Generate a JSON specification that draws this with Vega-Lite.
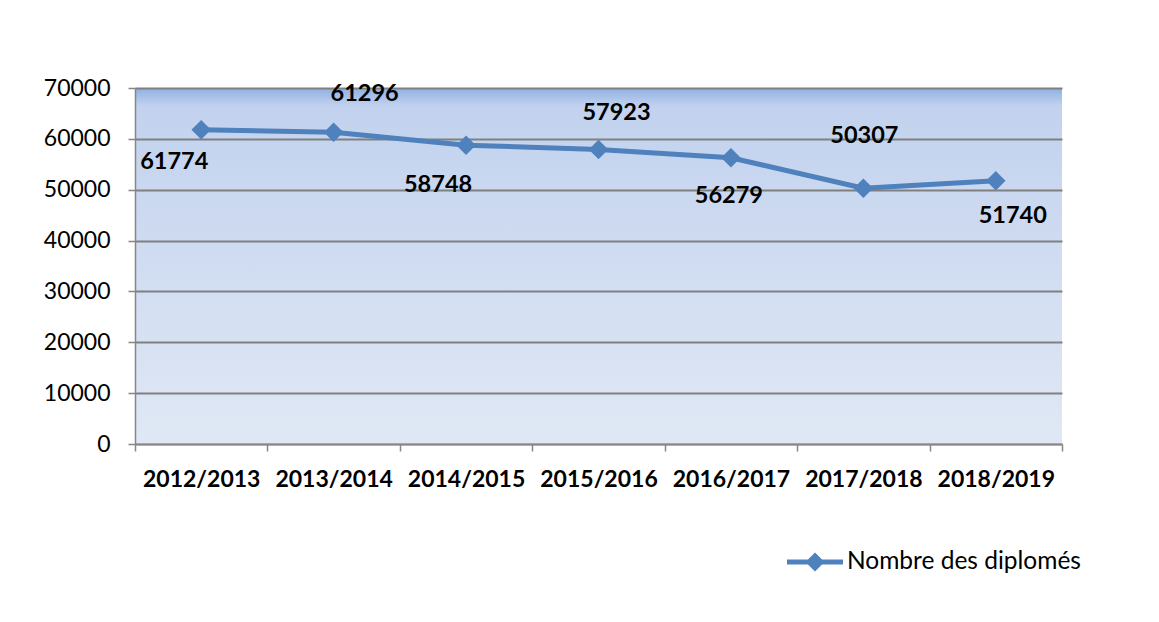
{
  "$schema": "https://vega.github.io/schema/vega-lite/v6.json",
  "width": 927,
  "height": 356,
  "autosize": "none",
  "padding": {"left": 135, "top": 88, "right": 97, "bottom": 178},
  "background": "white",
  "data": {"values": [
    {"annee": "2012/2013", "diplomes": 61774},
    {"annee": "2013/2014", "diplomes": 61296},
    {"annee": "2014/2015", "diplomes": 58748},
    {"annee": "2015/2016", "diplomes": 57923},
    {"annee": "2016/2017", "diplomes": 56279},
    {"annee": "2017/2018", "diplomes": 50307},
    {"annee": "2018/2019", "diplomes": 51740}
  ]},
  "encoding": {
    "x": {"field": "annee", "type": "nominal", "sort": null,
      "scale": {"paddingInner": 0, "paddingOuter": 0},
      "axis": {"title": null, "labelAngle": 0, "bandPosition": 0, "tickBand": "extent", "labelFont": "Lato", "labelFontSize": 23, "labelFontWeight": "bold", "labelColor": "#000000", "labelPadding": 17, "tickSize": 7, "tickColor": "#868686", "tickWidth": 1.5, "domainColor": "#868686", "domainWidth": 1.5, "grid": false}},
    "y": {"field": "diplomes", "type": "quantitative",
      "scale": {"domain": [0, 70000], "nice": false},
      "axis": {"title": null, "values": [0, 10000, 20000, 30000, 40000, 50000, 60000, 70000], "format": "d", "labelFont": "Lato", "labelFontSize": 23, "labelColor": "#000000", "labelPadding": 18, "tickSize": 7, "tickColor": "#868686", "tickWidth": 1.5, "domainColor": "#868686", "domainWidth": 1.5, "grid": true, "gridColor": "#808080", "gridWidth": 2}}
  },
  "layer": [
    {"mark": {"type": "line", "strokeWidth": 5},
     "encoding": {"color": {"datum": "Nombre des diplomés", "type": "nominal",
       "scale": {"range": ["#4f81bd"]},
       "legend": {"title": null, "orient": "none", "legendX": 652, "legendY": 446, "padding": 0,
         "symbolType": "M-1,-0.09H1V0.09H-1Z M0,-0.34L0.34,0L0,0.34L-0.34,0Z",
         "symbolSize": 3136, "symbolStrokeWidth": 0, "symbolFillColor": "#4f81bd", "symbolOpacity": 1,
         "labelFont": "Lato", "labelFontSize": 24.5, "labelColor": "#000000", "labelOffset": 4, "labelLimit": 400}}}},
    {"mark": {"type": "point", "shape": "diamond", "filled": true, "size": 380, "opacity": 1},
     "encoding": {"color": {"datum": "Nombre des diplomés", "type": "nominal"}}},
    {"transform": [{"filter": "datum.annee == '2012/2013'"}],
     "mark": {"type": "text", "font": "Lato", "fontSize": 23.5, "fontWeight": "bold", "color": "#000000", "dx": -27, "dy": 32},
     "encoding": {"text": {"field": "diplomes", "type": "quantitative", "format": "d"}}},
    {"transform": [{"filter": "datum.annee == '2013/2014'"}],
     "mark": {"type": "text", "font": "Lato", "fontSize": 23.5, "fontWeight": "bold", "color": "#000000", "dx": 31, "dy": -38},
     "encoding": {"text": {"field": "diplomes", "type": "quantitative", "format": "d"}}},
    {"transform": [{"filter": "datum.annee == '2014/2015'"}],
     "mark": {"type": "text", "font": "Lato", "fontSize": 23.5, "fontWeight": "bold", "color": "#000000", "dx": -28, "dy": 40},
     "encoding": {"text": {"field": "diplomes", "type": "quantitative", "format": "d"}}},
    {"transform": [{"filter": "datum.annee == '2015/2016'"}],
     "mark": {"type": "text", "font": "Lato", "fontSize": 23.5, "fontWeight": "bold", "color": "#000000", "dx": 18, "dy": -36},
     "encoding": {"text": {"field": "diplomes", "type": "quantitative", "format": "d"}}},
    {"transform": [{"filter": "datum.annee == '2016/2017'"}],
     "mark": {"type": "text", "font": "Lato", "fontSize": 23.5, "fontWeight": "bold", "color": "#000000", "dx": -2, "dy": 38},
     "encoding": {"text": {"field": "diplomes", "type": "quantitative", "format": "d"}}},
    {"transform": [{"filter": "datum.annee == '2017/2018'"}],
     "mark": {"type": "text", "font": "Lato", "fontSize": 23.5, "fontWeight": "bold", "color": "#000000", "dx": 1, "dy": -52},
     "encoding": {"text": {"field": "diplomes", "type": "quantitative", "format": "d"}}},
    {"transform": [{"filter": "datum.annee == '2018/2019'"}],
     "mark": {"type": "text", "font": "Lato", "fontSize": 23.5, "fontWeight": "bold", "color": "#000000", "dx": 17, "dy": 35},
     "encoding": {"text": {"field": "diplomes", "type": "quantitative", "format": "d"}}}
  ],
  "config": {
    "view": {"stroke": null, "fill": {"gradient": "linear", "x1": 0, "y1": 0, "x2": 0, "y2": 1,
      "stops": [{"offset": 0, "color": "#8fb0e3"}, {"offset": 0.05, "color": "#c2d2ee"}, {"offset": 1, "color": "#e0e8f5"}]}}
  }
}
